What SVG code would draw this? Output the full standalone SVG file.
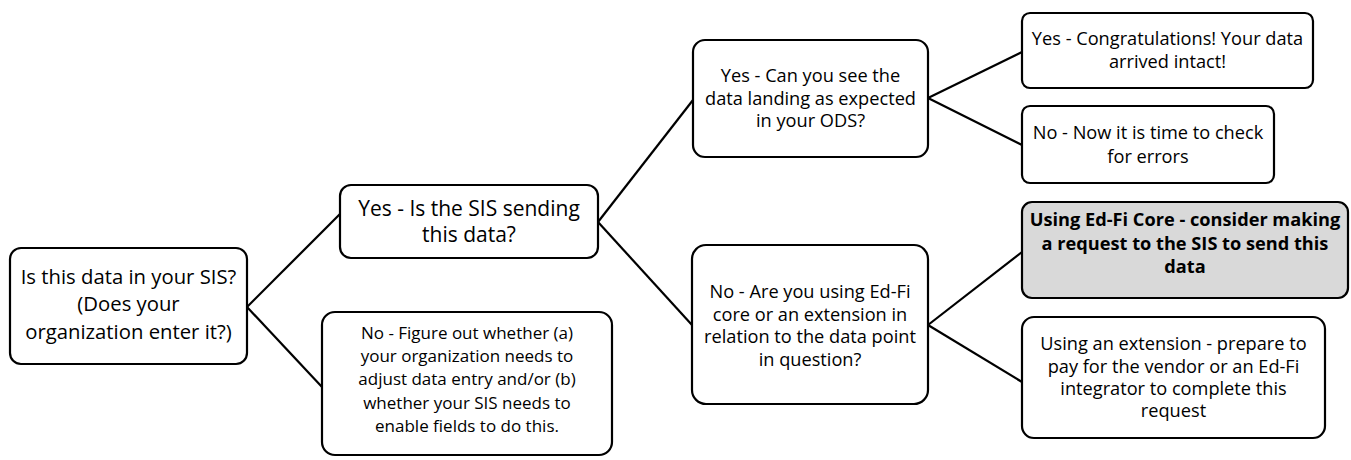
<svg xmlns="http://www.w3.org/2000/svg" width="1351" height="460" viewBox="0 0 1351 460">
<style>
.box{fill:#ffffff;stroke:#000000;stroke-width:2.2}
.hl{fill:#d9d9d9}
.t{font-family:"Open Sans","Liberation Sans",sans-serif;font-size:18.2px;fill:#000000;text-anchor:middle}
.big{font-size:21px}
.root{font-size:20.3px}
.sm{font-size:17px}
.b{font-weight:bold}
.c{stroke:#000000;stroke-width:2.2;fill:none}
</style>
<rect width="1351" height="460" fill="#ffffff"/>
<g id="connectors">
<line class="c" x1="247" y1="307" x2="340" y2="214"/>
<line class="c" x1="247" y1="307" x2="322" y2="387"/>
<line class="c" x1="598" y1="222" x2="693" y2="100"/>
<line class="c" x1="598" y1="222" x2="692" y2="325"/>
<line class="c" x1="928" y1="98" x2="1022" y2="52"/>
<line class="c" x1="928" y1="98" x2="1022" y2="145"/>
<line class="c" x1="928" y1="325" x2="1022" y2="252"/>
<line class="c" x1="928" y1="325" x2="1022" y2="382"/>
</g>
<g id="n1">
<rect class="box" x="10" y="248" width="237" height="116" rx="11"/>
<text class="t root"><tspan x="128.5" y="283.5">Is this data in your SIS?</tspan><tspan x="128.5" y="311">(Does your</tspan><tspan x="128.5" y="338.5">organization enter it?)</tspan></text>
</g>
<g id="n2">
<rect class="box" x="340" y="185" width="258" height="73" rx="11"/>
<text class="t big"><tspan x="469" y="216">Yes - Is the SIS sending</tspan><tspan x="469" y="242">this data?</tspan></text>
</g>
<g id="n3">
<rect class="box" x="322" y="312" width="290" height="143" rx="13"/>
<text class="t sm"><tspan x="467" y="339">No - Figure out whether (a)</tspan><tspan x="467" y="362.2">your organization needs to</tspan><tspan x="467" y="385.4">adjust data entry and/or (b)</tspan><tspan x="467" y="408.6">whether your SIS needs to</tspan><tspan x="467" y="431.8">enable fields to do this.</tspan></text>
</g>
<g id="n4">
<rect class="box" x="693" y="40" width="235" height="117" rx="12"/>
<text class="t"><tspan x="810.5" y="82">Yes - Can you see the</tspan><tspan x="810.5" y="104.5">data landing as expected</tspan><tspan x="810.5" y="127">in your ODS?</tspan></text>
</g>
<g id="n5">
<rect class="box" x="692" y="245" width="236" height="159" rx="14"/>
<text class="t"><tspan x="810" y="298">No - Are you using Ed-Fi</tspan><tspan x="810" y="320.5">core or an extension in</tspan><tspan x="810" y="343">relation to the data point</tspan><tspan x="810" y="365.5">in question?</tspan></text>
</g>
<g id="n6">
<rect class="box" x="1022" y="13" width="291" height="75" rx="8"/>
<text class="t"><tspan x="1167.5" y="45">Yes - Congratulations! Your data</tspan><tspan x="1167.5" y="68">arrived intact!</tspan></text>
</g>
<g id="n7">
<rect class="box" x="1022" y="106" width="252" height="77" rx="8"/>
<text class="t"><tspan x="1148" y="139">No - Now it is time to check</tspan><tspan x="1148" y="163">for errors</tspan></text>
</g>
<g id="n8">
<rect class="box hl" x="1022" y="202" width="326" height="96" rx="10"/>
<text class="t b"><tspan x="1185" y="226">Using Ed-Fi Core - consider making</tspan><tspan x="1185" y="249.5">a request to the SIS to send this</tspan><tspan x="1185" y="273">data</tspan></text>
</g>
<g id="n9">
<rect class="box" x="1022" y="317" width="303" height="121" rx="12"/>
<text class="t"><tspan x="1173.5" y="350">Using an extension - prepare to</tspan><tspan x="1173.5" y="372.5">pay for the vendor or an Ed-Fi</tspan><tspan x="1173.5" y="395">integrator to complete this</tspan><tspan x="1173.5" y="417">request</tspan></text>
</g>
</svg>
